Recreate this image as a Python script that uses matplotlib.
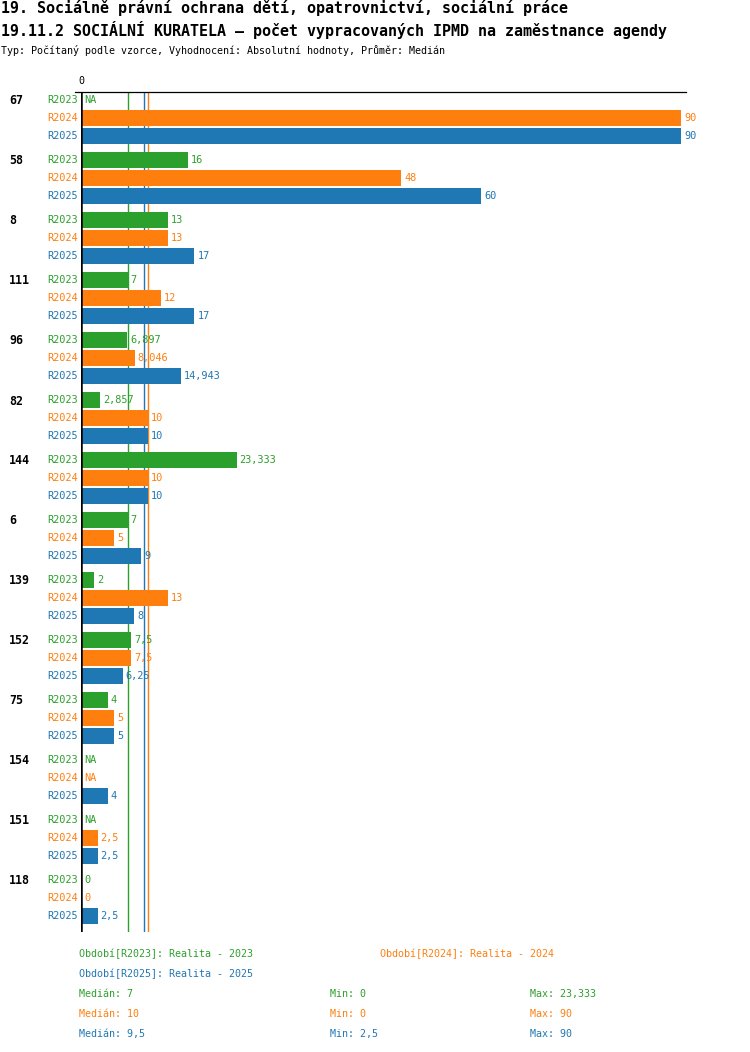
import numpy as np
import matplotlib
matplotlib.use("Agg")
import matplotlib.pyplot as plt
from matplotlib.lines import Line2D

plt.rcParams['font.family'] = ['DejaVu Sans Mono']

W, H = 750, 1052

title1 = "19. Sociálně právní ochrana dětí, opatrovnictví, sociální práce"
title2 = "19.11.2 SOCIÁLNÍ KURATELA – počet vypracovaných IPMD na zaměstnance agendy"
subtitle = "Typ: Počítaný podle vzorce, Vyhodnocení: Absolutní hodnoty, Průměr: Medián"

groups = ["67", "58", "8", "111", "96", "82", "144", "6", "139", "152", "75", "154", "151", "118"]
series = ["R2023", "R2024", "R2025"]
series_desc = ["Realita - 2023", "Realita - 2024", "Realita - 2025"]
colors = ["#2ca02c", "#ff7f0e", "#1f77b4"]
nan = np.nan
r2023 = [nan, 16, 13, 7, 6.897, 2.857, 23.333, 7, 2, 7.5, 4, nan, nan, 0]
r2024 = [90, 48, 13, 12, 8.046, 10, 10, 5, 13, 7.5, 5, nan, 2.5, 0]
r2025 = [90, 60, 17, 17, 14.943, 10, 10, 9, 8, 6.25, 5, 4, 2.5, 2.5]
values = [r2023, r2024, r2025]
xmax = 90


def fmt(v):
    if np.isnan(v):
        return "NA"
    s = f"{v:.3f}".rstrip("0").rstrip(".")
    return s.replace(".", ",")


def fx(px):
    return px / W


def fy(py):
    return 1 - py / H


fig = plt.figure(figsize=(W / 100, H / 100), dpi=100)
fig.patch.set_facecolor("white")

# titles
fig.text(fx(1), fy(8), title1, fontsize=10.8, fontweight="bold", va="center", ha="left")
fig.text(fx(1), fy(30), title2, fontsize=10.8, fontweight="bold", va="center", ha="left")
fig.text(fx(1), fy(50), subtitle, fontsize=7.2, va="center", ha="left")

top, bottom = 92, 932
ax = fig.add_axes([fx(81), fy(bottom), 600 / W, (bottom - top) / H])
ax.set_xlim(0, xmax)
ax.set_ylim(bottom, top)
ax.axis("off")

group_pitch, bar_pitch, bar_h = 60, 18, 16
for g, name in enumerate(groups):
    base = top + 8 + g * group_pitch
    fig.text(fx(9), fy(base + 1), name, fontsize=8.4, fontweight="bold", va="center", ha="left")
    for k in range(3):
        y = base + k * bar_pitch
        v = values[k][g]
        ax.annotate(series[k], (0, y), xytext=(-3, 0), textcoords="offset pixels",
                    ha="right", va="center", fontsize=7.4, color=colors[k], annotation_clip=False,
                    zorder=5)
        vv = 0 if np.isnan(v) else v
        if vv > 0:
            ax.barh(y, vv, height=bar_h, left=0, color=colors[k], zorder=2)
        ax.annotate(fmt(v), (vv, y), xytext=(3, 0), textcoords="offset pixels",
                    ha="left", va="center", fontsize=7.4, color=colors[k], annotation_clip=False,
                    zorder=5)

# medians (drawn behind the bars)
meds = [np.nanmedian(v) for v in values]
mins = [np.nanmin(v) for v in values]
maxs = [np.nanmax(v) for v in values]
for k in range(3):
    ax.axvline(meds[k], color=colors[k], lw=1.0, zorder=1)

# axis lines
ax.axvline(0, color="black", lw=1.8, zorder=4)
fig.add_artist(Line2D([fx(75), fx(686)], [fy(top), fy(top)], color="black", lw=0.9))
fig.text(fx(81), fy(81), "0", fontsize=7.2, ha="center", va="center")

# legend
fig.text(fx(79), fy(954), f"Období[{series[0]}]: {series_desc[0]}", fontsize=7.2, color=colors[0], va="center")
fig.text(fx(380), fy(954), f"Období[{series[1]}]: {series_desc[1]}", fontsize=7.2, color=colors[1], va="center")
fig.text(fx(79), fy(974), f"Období[{series[2]}]: {series_desc[2]}", fontsize=7.2, color=colors[2], va="center")
for k in range(3):
    yy = 994 + 20 * k
    fig.text(fx(79), fy(yy), f"Medián: {fmt(meds[k])}", fontsize=7.2, color=colors[k], va="center")
    fig.text(fx(330), fy(yy), f"Min: {fmt(mins[k])}", fontsize=7.2, color=colors[k], va="center")
    fig.text(fx(530), fy(yy), f"Max: {fmt(maxs[k])}", fontsize=7.2, color=colors[k], va="center")

fig.savefig("out.png", dpi=100, facecolor="white")
